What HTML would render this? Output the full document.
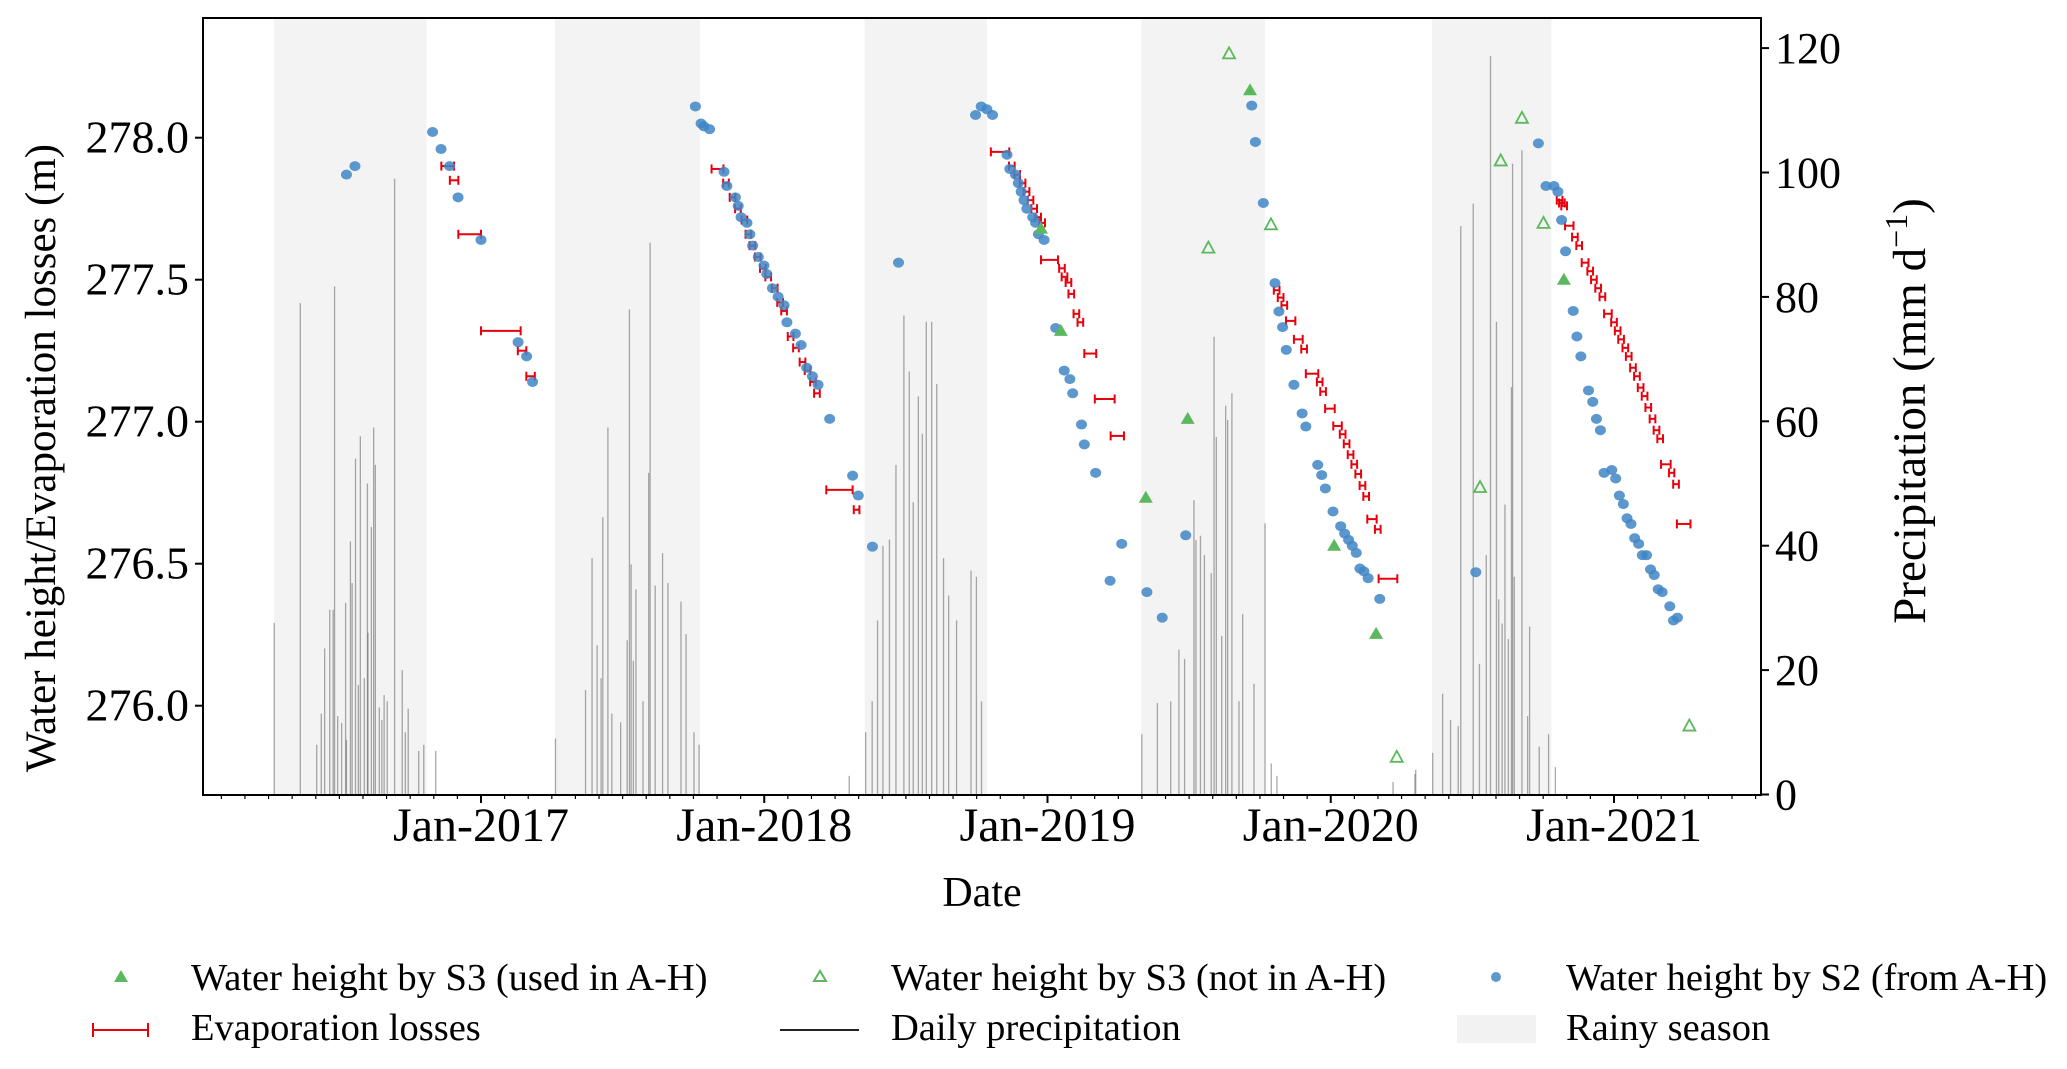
<!DOCTYPE html>
<html><head><meta charset="utf-8"><style>
html,body{margin:0;padding:0;background:#fff;}
svg{display:block;font-family:"Liberation Serif",serif;}
</style></head><body>
<svg id="chart" width="2067" height="1069" viewBox="0 0 2067 1069" xmlns="http://www.w3.org/2000/svg">
<g id="rainy"></g>
<g id="precip"></g>
<g id="evap"></g>
<g id="s2"></g>
<g id="s3used"></g>
<g id="s3not"></g>
<g id="axes"></g>
<text x="982" y="906" font-size="42" text-anchor="middle">Date</text>
<text transform="translate(55,458) rotate(-90)" font-size="43" text-anchor="middle">Water height/Evaporation losses (m)</text>
<text transform="translate(1925,411) rotate(-90)" font-size="47" text-anchor="middle">Precipitation (mm d<tspan dy="-18" font-size="32">−1</tspan><tspan dy="18">)</tspan></text>
<g font-size="38.5">
  <g>
    <polygon points="121,970 114,982 128,982" fill="#5cb85c"/>
    <text x="191" y="990">Water height by S3 (used in A-H)</text></g>
  <g>
    <polygon points="820,971 814,981 826,981" fill="none" stroke="#5cb85c" stroke-width="2"/>
    <text x="891" y="990">Water height by S3 (not in A-H)</text></g>
  <g>
    <circle cx="1496" cy="977" r="5" fill="#3f86c6" opacity="0.85"/>
    <text x="1566" y="990">Water height by S2 (from A-H)</text></g>
  <g>
    <line x1="93" y1="1030" x2="148" y2="1030" stroke="#e8000b" stroke-width="2"/>
    <line x1="93" y1="1023" x2="93" y2="1037" stroke="#e8000b" stroke-width="2"/>
    <line x1="148" y1="1023" x2="148" y2="1037" stroke="#e8000b" stroke-width="2"/>
    <text x="191" y="1040">Evaporation losses</text></g>
  <g>
    <line x1="780" y1="1030" x2="859" y2="1030" stroke="#222" stroke-width="2"/>
    <text x="891" y="1040">Daily precipitation</text></g>
  <g>
    <rect x="1457" y="1015" width="79" height="28" fill="#f2f2f2"/>
    <text x="1566" y="1040">Rainy season</text></g>
</g>
</svg>
<script>
const rainyStart=[2016.269,2017.261,2018.355,2019.331,2020.357];
const rainyEnd=[2016.808,2017.773,2018.786,2019.768,2020.779];
const precipDate=[2016.270,2016.362,2016.483,2016.695,2016.574,2016.621,2016.557,2016.627,2016.599,2016.539,2016.522,2016.478,2016.466,2016.448,2016.436,2016.722,2016.733,2016.658,2016.641,2016.588,2016.613,2016.601,2016.780,2016.798,2016.420,2016.508,2016.494,2016.525,2016.545,2016.567,2016.650,2016.669,2016.743,
2017.263,2017.392,2017.430,2017.448,2017.524,2017.530,2017.547,2017.597,2017.592,2017.615,2017.641,2017.660,2017.706,2017.724,2017.369,2017.410,2017.424,2017.462,2017.493,2017.516,2017.538,2017.572,2017.752,2017.770,
2018.358,2018.381,2018.400,2018.419,2018.442,2018.465,2018.493,2018.512,2018.526,2018.544,2018.558,2018.572,2018.591,2018.609,2018.633,2018.651,2018.679,2018.730,2018.749,2018.767,
2019.588,2019.651,2019.629,2019.636,2019.596,2019.517,2019.524,2019.540,2019.554,2019.768,2019.689,2019.464,2019.484,2019.388,2019.435,2019.333,2019.729,2019.676,2019.578,2019.615,
2020.564,2020.675,2020.642,2020.503,2020.459,2020.585,2020.638,2020.615,2020.648,2020.593,2020.702,2020.395,2020.423,2020.450,2020.360,2020.525,2020.549,2020.605,2020.627,2020.695,2020.736,2020.769,2020.793,2020.297,2019.79,2019.81,2020.22,2020.30,2018.30,2016.84];
const precipMm=[27.6,79,81.7,99,57.6,59,54,53,50,40.7,30.8,29.7,29.7,23.5,13,20,10,16,14,18.7,43,26,7,8,8,11.5,12.6,8.8,34,17.6,12,15,13.8,
9,38,44.6,59,78,37,33,88.7,51.7,33.6,38.8,34,31,25.8,16.8,24,18.7,13,11.6,24.8,21.5,15,10,8,
10,15,28,40,41,53,77,68,47,64,58,76,76,66,38,32,28,36,35,15,
73.6,64.5,62.5,60.2,57.5,47.3,40.9,41.6,38.5,43.6,29,23.3,21.8,14.7,15,9.7,17.8,15,35.6,25.5,
118.7,103.6,101.4,95,91.4,76,65.5,46.6,35,31.4,27,16.2,12,11,6.7,21,38.5,27.5,25,12.6,7.7,9.7,4.4,3.3,5,3,2,4,3,7];
const s2Date=[2016.525,2016.555,2016.829,2016.859,2016.889,2016.919,2017.000,2017.131,2017.161,2017.182,2017.757,2017.777,2017.787,2017.807,2017.858,2017.868,2017.898,2017.908,2017.918,2017.939,2017.949,2017.959,2017.979,2017.999,2018.009,2018.029,2018.049,2018.070,2018.080,2018.110,2018.130,2018.150,2018.170,2018.190,2018.231,2018.312,2018.332,2018.382,2018.474,2018.746,2018.766,2018.786,2018.806,2018.857,2018.867,2018.887,2018.897,2018.907,2018.917,2018.927,2018.948,2018.958,2018.968,2018.988,2019.029,2019.059,2019.079,2019.089,2019.120,2019.130,2019.170,2019.221,2019.262,2019.351,2019.405,2019.488,
2019.721,2019.734,2019.762,2019.803,2019.817,2019.830,2019.843,2019.870,2019.899,2019.912,2019.954,2019.968,2019.981,2020.008,2020.035,2020.049,2020.063,2020.076,2020.090,2020.103,2020.117,2020.132,2020.173,
2020.512,2020.733,2020.760,2020.788,2020.802,2020.815,2020.829,2020.856,2020.869,2020.883,2020.910,2020.925,2020.938,2020.952,2020.965,2020.992,2021.006,2021.019,2021.033,2021.046,2021.060,2021.073,2021.087,2021.100,2021.115,2021.129,2021.142,2021.156,2021.170,2021.197,2021.210,2021.224];
const s2Height=[277.87,277.90,278.02,277.96,277.90,277.79,277.64,277.28,277.23,277.14,278.11,278.05,278.04,278.03,277.88,277.83,277.79,277.76,277.72,277.70,277.66,277.62,277.58,277.55,277.52,277.47,277.44,277.41,277.35,277.31,277.27,277.19,277.16,277.13,277.01,276.81,276.74,276.56,277.56,278.08,278.11,278.10,278.08,277.94,277.89,277.87,277.84,277.81,277.78,277.75,277.72,277.70,277.66,277.64,277.33,277.18,277.15,277.10,276.99,276.92,276.82,276.44,276.57,276.40,276.31,276.60,
278.113,277.985,277.770,277.488,277.388,277.333,277.253,277.130,277.029,276.983,276.848,276.812,276.765,276.684,276.632,276.606,276.584,276.563,276.538,276.483,276.473,276.449,276.376,
276.47,277.98,277.83,277.83,277.81,277.71,277.60,277.39,277.30,277.23,277.11,277.07,277.01,276.97,276.82,276.83,276.80,276.74,276.71,276.66,276.64,276.59,276.57,276.53,276.53,276.48,276.46,276.41,276.40,276.35,276.30,276.31];
const s3UsedDate=[2018.977,2019.047,2019.347,2019.495,2019.715,2020.012,2020.160,2020.823];
const s3UsedHeight=[277.68,277.32,276.732,277.010,278.167,276.563,276.253,277.50];
const s3NotDate=[2019.641,2019.568,2019.789,2020.233,2020.527,2020.600,2020.675,2020.751,2021.266];
const s3NotHeight=[278.297,277.613,277.695,275.82,276.77,277.92,278.07,277.70,275.93];
const evapStart=[2016.86,2016.89,2016.92,2017.00,2017.13,2017.16,
2017.814,2017.855,2017.878,2017.897,2017.920,2017.934,2017.948,2017.967,2017.985,2018.004,2018.027,2018.046,2018.060,2018.083,2018.102,2018.125,2018.143,2018.162,2018.176,2018.219,2018.316,
2018.800,2018.864,2018.883,2018.902,2018.916,2018.930,2018.943,2018.957,2018.971,2018.977,2019.041,2019.050,2019.064,2019.074,2019.092,2019.106,2019.130,2019.167,2019.223,
2019.799,2019.813,2019.826,2019.842,2019.870,2019.896,2019.912,2019.951,2019.963,2019.980,2020.009,2020.032,2020.046,2020.060,2020.073,2020.087,2020.102,2020.115,2020.129,2020.156,2020.169,
2020.798,2020.806,2020.814,2020.827,2020.852,2020.867,2020.886,2020.906,2020.919,2020.934,2020.949,2020.965,2020.990,2021.003,2021.015,2021.030,2021.042,2021.057,2021.071,2021.084,2021.098,2021.111,2021.126,2021.140,2021.153,2021.166,2021.194,2021.209,2021.222];
const evapEnd=[2016.905,2016.92,2017.00,2017.14,2017.16,2017.19,
2017.856,2017.875,2017.898,2017.917,2017.940,2017.954,2017.968,2017.987,2018.005,2018.024,2018.047,2018.066,2018.080,2018.103,2018.122,2018.145,2018.163,2018.182,2018.196,2018.312,2018.336,
2018.865,2018.884,2018.903,2018.922,2018.936,2018.950,2018.963,2018.977,2018.991,2019.037,2019.061,2019.070,2019.084,2019.094,2019.112,2019.126,2019.172,2019.237,2019.270,
2019.819,2019.833,2019.846,2019.875,2019.901,2019.916,2019.956,2019.971,2019.983,2020.014,2020.039,2020.052,2020.066,2020.080,2020.093,2020.107,2020.122,2020.135,2020.162,2020.176,2020.235,
2020.818,2020.826,2020.834,2020.857,2020.872,2020.887,2020.910,2020.926,2020.939,2020.954,2020.969,2020.992,2021.010,2021.023,2021.035,2021.050,2021.062,2021.077,2021.091,2021.104,2021.118,2021.131,2021.146,2021.160,2021.173,2021.200,2021.213,2021.229,2021.270];
const evapHeight=[277.90,277.85,277.66,277.32,277.25,277.16,
277.89,277.84,277.79,277.75,277.71,277.66,277.62,277.58,277.54,277.51,277.47,277.42,277.39,277.30,277.26,277.21,277.18,277.14,277.10,276.76,276.69,
277.95,277.90,277.87,277.84,277.81,277.78,277.75,277.72,277.70,277.57,277.54,277.51,277.49,277.45,277.38,277.35,277.24,277.08,276.95,
277.463,277.437,277.410,277.355,277.290,277.256,277.169,277.140,277.106,277.046,276.985,276.956,276.922,276.884,276.850,276.816,276.775,276.737,276.657,276.621,276.447,
277.78,277.77,277.76,277.69,277.65,277.62,277.56,277.53,277.50,277.47,277.44,277.38,277.35,277.32,277.29,277.26,277.23,277.19,277.16,277.12,277.09,277.05,277.01,276.97,276.94,276.85,276.82,276.78,276.64];
const xTickYears=[2017,2018,2019,2020,2021];
const xTickLabels=["Jan-2017","Jan-2018","Jan-2019","Jan-2020","Jan-2021"];
const leftTicks=[276.0,276.5,277.0,277.5,278.0];
const rightTicks=[0,20,40,60,80,100,120];

const L=203,R=1761,T=18,B=795;
function xs(t){return 481+(t-2017)*283.25;}
function yl(h){return 137.7+(278-h)*284;}
function yr(mm){return 794.5-mm*6.22;}
const NS="http://www.w3.org/2000/svg";
function mk(tag,parent,attrs){const e=document.createElementNS(NS,tag);for(const k in attrs)e.setAttribute(k,attrs[k]);parent.appendChild(e);return e;}

const gR=document.getElementById('rainy');
rainyStart.forEach((s,i)=>{const r=mk('rect',gR,{x:xs(s),y:T,width:xs(rainyEnd[i])-xs(s),height:B-T,fill:'#f3f3f3'});

});

const gP=document.getElementById('precip');
precipDate.forEach((d,i)=>{const l=mk('line',gP,{x1:xs(d),x2:xs(d),y1:B,y2:yr(precipMm[i]),stroke:'#555','stroke-width':1.3,'stroke-opacity':0.5});

});

const gE=document.getElementById('evap');
evapStart.forEach((s,i)=>{const y=yl(evapHeight[i]),x1=xs(s),x2=xs(evapEnd[i]);
const g=mk('g',gE,{stroke:'#e8000b','stroke-width':2});


mk('line',g,{x1:x1,x2:x2,y1:y,y2:y});mk('line',g,{x1:x1,x2:x1,y1:y-4.5,y2:y+4.5});mk('line',g,{x1:x2,x2:x2,y1:y-4.5,y2:y+4.5});});

const gS=document.getElementById('s2');
s2Date.forEach((d,i)=>{const c=mk('ellipse',gS,{cx:xs(d),cy:yl(s2Height[i]),rx:5.5,ry:5,fill:'#3f86c6','fill-opacity':0.85});

});

const gU=document.getElementById('s3used');
s3UsedDate.forEach((d,i)=>{const x=xs(d),y=yl(s3UsedHeight[i]);const p=mk('polygon',gU,{points:`${x},${y-7} ${x-7},${y+5} ${x+7},${y+5}`,fill:'#5cb85c'});

});

const gN=document.getElementById('s3not');
s3NotDate.forEach((d,i)=>{const x=xs(d),y=yl(s3NotHeight[i]);const p=mk('polygon',gN,{points:`${x},${y-6} ${x-6},${y+5} ${x+6},${y+5}`,fill:'none',stroke:'#5cb85c','stroke-width':1.8});

});

const gA=document.getElementById('axes');
const fr=mk('rect',gA,{x:L,y:T,width:R-L,height:B-T,fill:'none',stroke:'#000','stroke-width':2});


for(let y=2016;y<=2021;y++){for(let m=0;m<12;m++){const t=y+m/12;const x=xs(t);if(x<L||x>R)continue;
mk('line',gA,{x1:x,x2:x,y1:B,y2:B+(m===0?8:4),stroke:'#000','stroke-width':m===0?2:1.2});}}
xTickYears.forEach((yv,i)=>{const t=mk('text',gA,{x:xs(yv),y:841,'font-size':48,'text-anchor':'middle'});t.textContent=xTickLabels[i];

});
leftTicks.forEach(v=>{const y=yl(v);mk('line',gA,{x1:L-8,x2:L,y1:y,y2:y,stroke:'#000','stroke-width':2});
const t=mk('text',gA,{x:L-14,y:y+15,'font-size':46,'text-anchor':'end'});t.textContent=v.toFixed(1);

});
rightTicks.forEach(v=>{const y=yr(v);mk('line',gA,{x1:R,x2:R+8,y1:y,y2:y,stroke:'#000','stroke-width':2});
const t=mk('text',gA,{x:R+14,y:y+15,'font-size':44,'text-anchor':'start'});t.textContent=String(v);

});
</script>
</body></html>
